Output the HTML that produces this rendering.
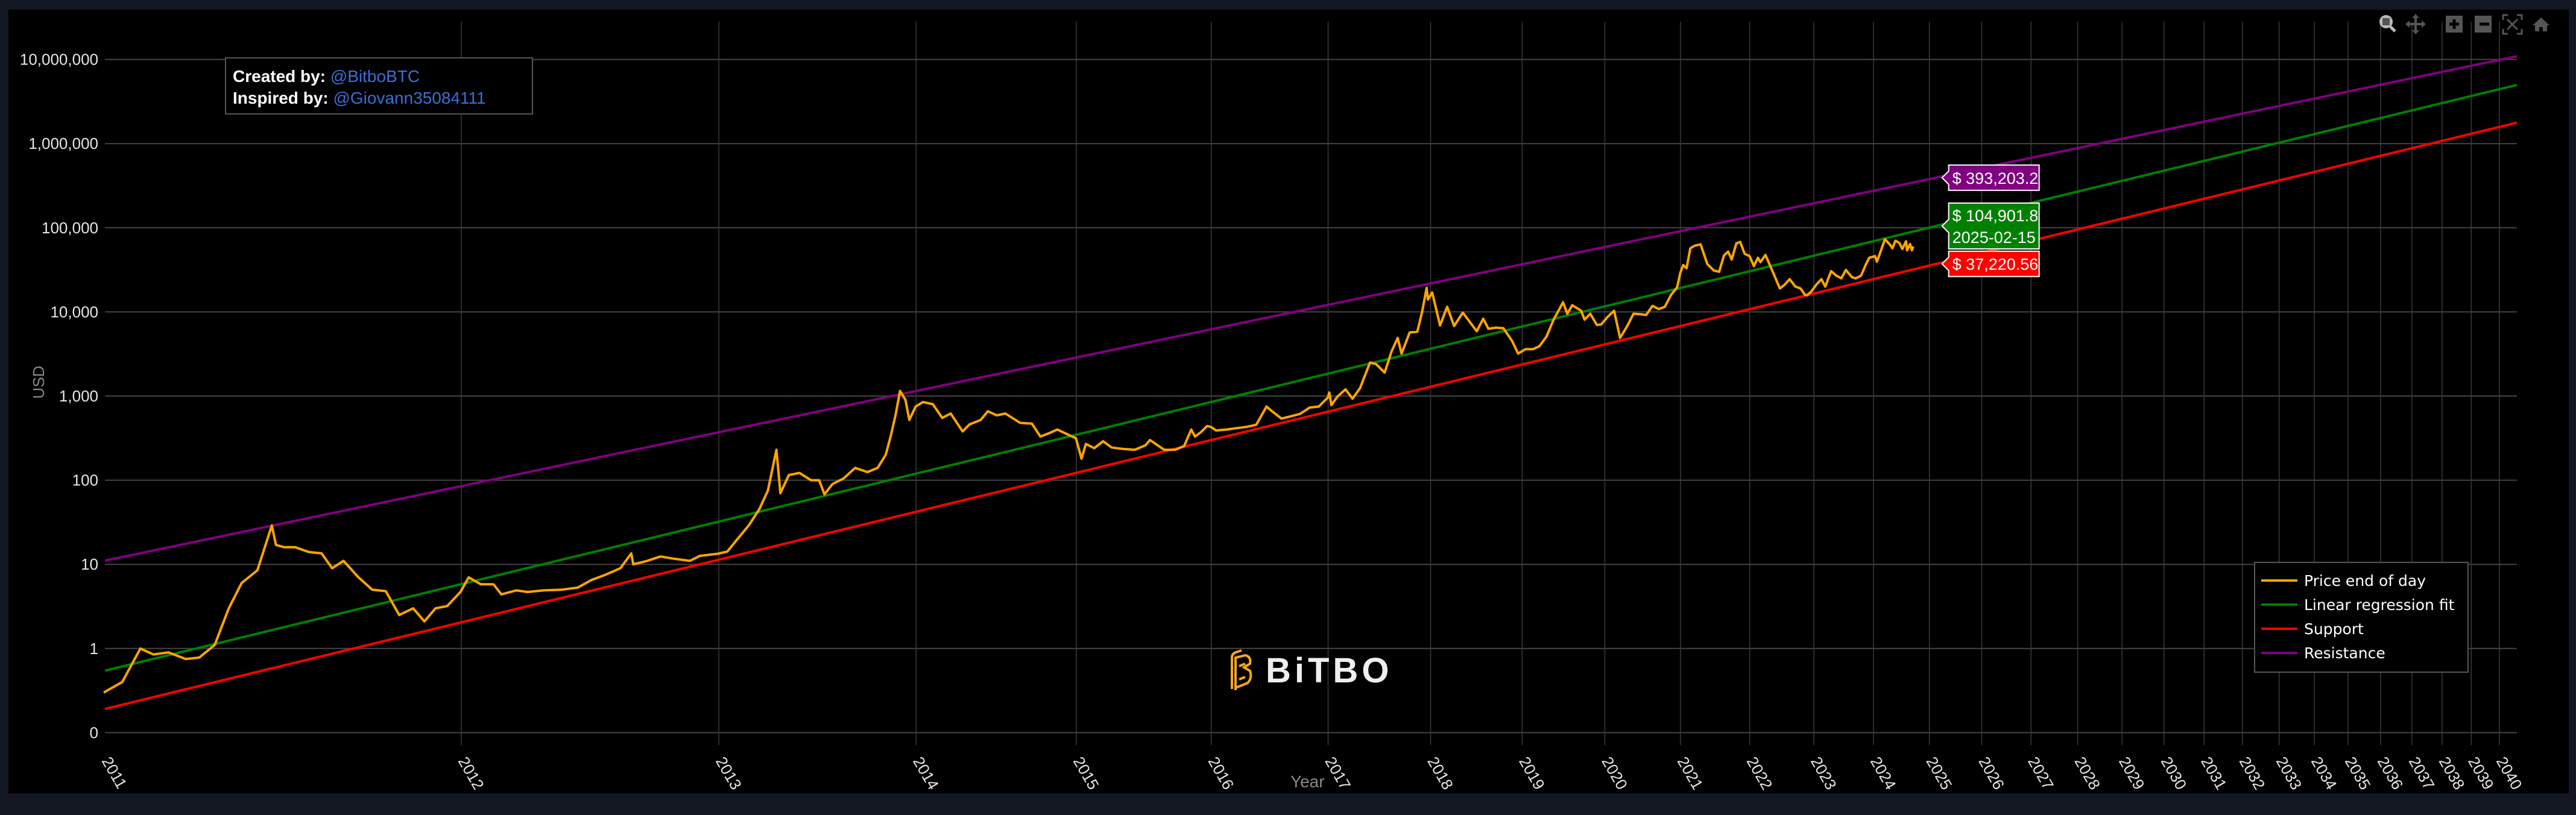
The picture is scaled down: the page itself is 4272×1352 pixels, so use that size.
<!DOCTYPE html>
<html><head><meta charset="utf-8">
<style>
html,body{margin:0;padding:0;background:#131722;}
body{width:4272px;height:1352px;overflow:hidden;position:relative;font-family:"Liberation Sans",sans-serif;}
#panel{position:absolute;left:14px;top:16px;width:4246px;height:1300px;background:#000;}
svg{position:absolute;left:0;top:0;}
</style></head>
<body>
<div id="panel"></div>
<svg id="chart" width="4272" height="1352">
  <g id="grid"></g>
  <g id="ylabels"></g>
  <g id="xlabels"></g>
  <g id="logo" transform="translate(2035,1083)">
    <path d="M8 60 L8 8 Q8 0 18 -2 L24 -4" stroke="#f5a623" stroke-width="4" fill="none"/>
    <path d="M14 62 L14 8 L30 4 Q40 6 38 18 L28 24 L38 30 Q42 42 34 50 L14 58" stroke="#f5a623" stroke-width="4" fill="none"/>
    <path d="M20 22 L30 18 M20 44 L30 40" stroke="#f5a623" stroke-width="4"/>
    <text x="64" y="49" font-size="58" font-weight="bold" fill="#eeeeee" letter-spacing="6" font-family="Liberation Sans, sans-serif">BiTBO</text>
  </g>
  <g id="series"></g>
  <g id="markers"></g>
  <text x="73" y="634" transform="rotate(-90 73 634)" text-anchor="middle" font-size="26" fill="#888">USD</text>
  <text x="2140" y="1306" font-size="28" fill="#888">Year</text>
  <g>
    <rect x="374" y="96" width="509" height="93" fill="#000" stroke="#555" stroke-width="2"/>
    <text x="386" y="136" font-size="28" fill="#fff"><tspan font-weight="bold">Created by:</tspan><tspan fill="#3a6fd8"> @BitboBTC</tspan></text>
    <text x="386" y="172" font-size="28" fill="#fff"><tspan font-weight="bold">Inspired by:</tspan><tspan fill="#3a6fd8"> @Giovann35084111</tspan></text>
  </g>
  <g>
    <rect x="3739" y="933" width="354" height="182" fill="#000" stroke="#555" stroke-width="2"/>
    <g><line x1="3750" y1="963" x2="3810" y2="963" stroke="#FFA500" stroke-width="4"/><text x="3821" y="972" font-size="25" fill="#fff" font-family="DejaVu Sans, sans-serif">Price end of day</text></g>
    <g><line x1="3750" y1="1003" x2="3810" y2="1003" stroke="#008000" stroke-width="4"/><text x="3821" y="1012" font-size="25" fill="#fff" font-family="DejaVu Sans, sans-serif">Linear regression fit</text></g>
    <g><line x1="3750" y1="1043" x2="3810" y2="1043" stroke="#FF0000" stroke-width="4"/><text x="3821" y="1052" font-size="25" fill="#fff" font-family="DejaVu Sans, sans-serif">Support</text></g>
    <g><line x1="3750" y1="1083" x2="3810" y2="1083" stroke="#800080" stroke-width="4"/><text x="3821" y="1092" font-size="25" fill="#fff" font-family="DejaVu Sans, sans-serif">Resistance</text></g>
  </g>
  <g fill="#555">
    <g><circle cx="3957" cy="36" r="11" fill="#bbb"/><rect x="3951" y="30" width="12" height="12" fill="#555"/><line x1="3964" y1="44" x2="3972" y2="52" stroke="#bbb" stroke-width="5"/></g>
    <g><path d="M4006 26 L4006 54 M3992 40 L4020 40" stroke="#555" stroke-width="4"/><path d="M4006 23 l-6 7 h12z M4006 57 l-6 -7 h12z M3989 40 l7 -6 v12z M4023 40 l-7 -6 v12z"/></g>
    <g><rect x="4056" y="26" width="28" height="28"/><path d="M4070 32 v16 M4062 40 h16" stroke="#000" stroke-width="5"/></g>
    <g><rect x="4104" y="26" width="28" height="28"/><path d="M4112 40 h16" stroke="#000" stroke-width="5"/></g>
    <g stroke="#555" stroke-width="3" fill="none"><path d="M4151 33 v-8 h8 M4174 25 h8 v8 M4182 48 v8 h-8 M4159 56 h-8 v-8 M4158 32 l17 17 M4175 32 l-17 17"/></g>
    <g><path d="M4200 42 l14 -13 l14 13 h-4 v10 h-7 v-7 h-6 v7 h-7 v-10z"/></g>
  </g>
</svg>
<script>
// ---- data ----
const yTickValues = [0.1, 1, 10, 100, 1000, 10000, 100000, 1000000, 10000000];
const yTickLabels = ["0", "1", "10", "100", "1,000", "10,000", "100,000", "1,000,000", "10,000,000"];
const xTickYears = [2011,2012,2013,2014,2015,2016,2017,2018,2019,2020,2021,2022,2023,2024,2025,2026,2027,2028,2029,2030,2031,2032,2033,2034,2035,2036,2037,2038,2039,2040];
const modelDate = "2025-02-15";
const modelNames = ["Resistance", "Linear regression fit", "Support"];
const modelValues = [393203.2, 104901.8, 37220.56];
const modelExponents = [4.90, 5.69, 5.695];
const priceDates = ["2011-01-10","2011-01-25","2011-02-09","2011-02-20","2011-03-05","2011-03-20","2011-04-01","2011-04-15","2011-04-28","2011-05-10","2011-05-25","2011-06-08","2011-06-12","2011-06-20","2011-07-01","2011-07-15","2011-07-28","2011-08-08","2011-08-20","2011-09-05","2011-09-20","2011-10-05","2011-10-20","2011-11-05","2011-11-18","2011-12-01","2011-12-15","2011-12-31",
"2012-01-10","2012-01-25","2012-02-10","2012-02-20","2012-03-10","2012-03-25","2012-04-15","2012-05-10","2012-06-01","2012-06-20","2012-07-10","2012-08-01","2012-08-17","2012-08-20","2012-09-10","2012-09-30","2012-10-20","2012-11-15","2012-12-01","2012-12-31",
"2013-01-15","2013-02-01","2013-02-20","2013-03-10","2013-03-25","2013-04-09","2013-04-16","2013-05-01","2013-05-20","2013-06-10","2013-06-25","2013-07-05","2013-07-20","2013-08-10","2013-09-01","2013-09-25","2013-10-15","2013-10-31","2013-11-10","2013-11-20","2013-11-29","2013-12-10","2013-12-18","2013-12-31",
"2014-01-15","2014-02-05","2014-02-25","2014-03-15","2014-04-10","2014-04-25","2014-05-20","2014-06-05","2014-06-25","2014-07-15","2014-08-18","2014-09-15","2014-10-05","2014-10-25","2014-11-15","2014-12-10","2014-12-31",
"2015-01-14","2015-01-25","2015-02-15","2015-03-10","2015-04-01","2015-05-01","2015-06-01","2015-06-30","2015-07-12","2015-08-20","2015-09-20","2015-10-15","2015-11-04","2015-11-15","2015-12-01","2015-12-20","2015-12-31",
"2016-01-15","2016-02-15","2016-03-15","2016-04-15","2016-05-15","2016-06-16","2016-07-01","2016-08-02","2016-09-01","2016-10-01","2016-11-01","2016-12-01","2016-12-31",
"2017-01-05","2017-01-12","2017-02-01","2017-03-01","2017-03-25","2017-04-20","2017-05-25","2017-06-15","2017-07-16","2017-08-10","2017-09-01","2017-09-15","2017-10-15","2017-11-12","2017-11-30","2017-12-17","2017-12-22",
"2018-01-07","2018-02-06","2018-03-05","2018-04-01","2018-05-05","2018-06-29","2018-07-25","2018-08-15","2018-09-15","2018-10-15","2018-11-20","2018-12-15",
"2019-01-15","2019-02-15","2019-03-15","2019-04-15","2019-05-15","2019-06-26","2019-07-15","2019-08-06","2019-09-15","2019-09-30","2019-10-26","2019-11-25","2019-12-15",
"2020-01-15","2020-02-13","2020-03-12","2020-04-15","2020-05-15","2020-06-15","2020-07-15","2020-08-15","2020-09-15","2020-10-15","2020-11-15","2020-12-15","2020-12-31",
"2021-01-15","2021-02-01","2021-02-20","2021-03-13","2021-04-14","2021-05-19","2021-06-22","2021-07-20","2021-08-15","2021-09-06","2021-09-25","2021-10-20","2021-11-10","2021-12-04","2021-12-31",
"2022-01-24","2022-02-15","2022-03-01","2022-03-29","2022-05-12","2022-06-18","2022-07-15","2022-08-13","2022-09-15","2022-10-15","2022-11-09","2022-11-21","2022-12-15",
"2023-01-15","2023-02-15","2023-03-10","2023-04-14","2023-05-15","2023-06-15","2023-07-13","2023-08-18","2023-09-11","2023-10-15","2023-11-15","2023-12-05",
"2024-01-11","2024-01-23","2024-02-15","2024-03-14","2024-04-15","2024-05-01","2024-05-21","2024-06-15","2024-07-05","2024-07-29","2024-08-05","2024-08-25","2024-09-06","2024-09-15"];
const priceValues = [0.3,0.4,1.0,0.85,0.9,0.75,0.78,1.1,3,6,8.5,29,17,16,16,14,13.5,9,11,7,5,4.8,2.5,3,2.1,3,3.2,4.7,
7,5.8,5.8,4.4,4.9,4.7,4.9,5,5.3,6.5,7.5,9,13.5,10,11,12.4,11.7,11,12.6,13.4,
14.2,20,29,45,75,230,70,115,122,100,100,68,90,105,140,125,140,200,330,600,1150,900,520,750,
850,800,550,620,380,460,520,660,590,620,480,470,330,360,400,350,315,
180,270,240,290,245,235,230,260,300,230,230,255,400,330,370,440,430,
390,400,415,430,455,750,670,540,575,615,730,750,960,
1100,780,980,1200,930,1240,2500,2400,1900,3400,4900,3200,5700,5800,10000,19300,14000,
17000,6900,11500,6800,9800,5900,8300,6300,6500,6400,4500,3200,
3600,3600,3900,5100,8000,13000,9500,12000,10300,8100,9500,7000,7100,
8800,10300,4900,6800,9500,9400,9200,11800,10800,11500,16000,19500,29000,
36000,33000,57000,61000,63500,37000,31000,30000,47000,52000,42000,65000,68000,49000,46000,
35000,44000,39000,47500,29000,19000,21000,24500,20000,19000,16000,15800,17300,
21000,24500,20000,30500,27000,25000,31500,26000,25000,27000,37000,44000,
46000,39500,52000,73000,63000,57000,70000,66000,56000,69000,54000,64000,54000,60000];

// ---- scales ----
const NS = "http://www.w3.org/2000/svg";
const GEN = Date.UTC(2009,0,3);
const PL = 174, PR = 4174, PT = 36, PB = 1236;
function daysOf(s){const p=s.split("-").map(Number);return (Date.UTC(p[0],p[1]-1,p[2])-GEN)/86400000;}
function lx(d){return Math.log10(d-50);}
function X(d){return 765 + 3270*(lx(d)-Math.log10(1043));}
function Y(v){return 657 - (Math.log10(v)-3)*139.6;}
function xToLog(x){return Math.log10(1043)+(x-765)/3270;}

function mk(tag, attrs, parent){const e=document.createElementNS(NS,tag);for(const k in attrs)e.setAttribute(k,attrs[k]);parent.appendChild(e);return e;}

const grid=document.getElementById('grid'), yl=document.getElementById('ylabels'), xl=document.getElementById('xlabels');
yTickValues.forEach((v,i)=>{
  const y=Y(v);
  const ln=mk('line',{x1:PL,x2:PR,y1:y,y2:y,stroke:'#444','stroke-width':2},grid);
  
  
  const t=mk('text',{x:163,y:y+9,'text-anchor':'end','font-size':26,fill:'#e6e6e6'},yl);
  t.textContent=yTickLabels[i];
  
  
});
xTickYears.forEach((yr,i)=>{
  let x=X(daysOf(yr+"-01-01"));
  if(i===0) x=PL;
  else{
    const ln=mk('line',{x1:x,x2:x,y1:PT,y2:PB,stroke:'#3a3a3a','stroke-width':1.5},grid);
    
    
  }
  const t=mk('text',{x:x-6,y:1262,'font-size':26,fill:'#e6e6e6',transform:`rotate(60 ${x-6} 1262)`},xl);
  t.textContent=String(yr);
  
  
});

const series=document.getElementById('series');
const colors=['#800080','#008000','#FF0000'];
const md=daysOf(modelDate), mlog=lx(md);
const lineOrder=[2,1,0];
lineOrder.forEach(i=>{
  const f=l=>Math.pow(10, Math.log10(modelValues[i]) + modelExponents[i]*(l-mlog));
  const l1=xToLog(PL), l2=xToLog(PR);
  const ln=mk('line',{x1:PL,y1:Y(f(l1)),x2:PR,y2:Y(f(l2)),stroke:colors[i],'stroke-width':4},series);
  
  
});
let d='';
priceDates.forEach((s,i)=>{d+=(i?'L':'M')+X(daysOf(s)).toFixed(1)+' '+Y(priceValues[i]).toFixed(1);});
const pp=mk('path',{d:d,stroke:'#FFA500','stroke-width':4,fill:'none','stroke-linejoin':'round'},series);



// hover labels
const mg=document.getElementById('markers');
const mx=X(md)+10;
modelValues.forEach((v,i)=>{
  const y=Y(v);
  const txt='$ '+v.toLocaleString('en-US',{maximumFractionDigits:2});
  const two=(i===1);
  const h=two?76:42, top=two?y-38:y-21;
  const g=mk('g',{},mg);
  
  
  mk('path',{d:`M${mx} ${y} L${mx+11} ${y-11} L${mx+11} ${top} L${mx+161} ${top} L${mx+161} ${top+h} L${mx+11} ${top+h} L${mx+11} ${y+11} Z`,fill:colors[i],stroke:'#fff','stroke-width':2},g);
  const t=mk('text',{x:mx+17,y:two?y-8:y+10,'font-size':27,fill:'#fff'},g);
  t.textContent=txt;
  if(two){const t2=mk('text',{x:mx+17,y:y+28,'font-size':27,fill:'#fff'},g);t2.textContent=modelDate;}
});
</script>
</body></html>
